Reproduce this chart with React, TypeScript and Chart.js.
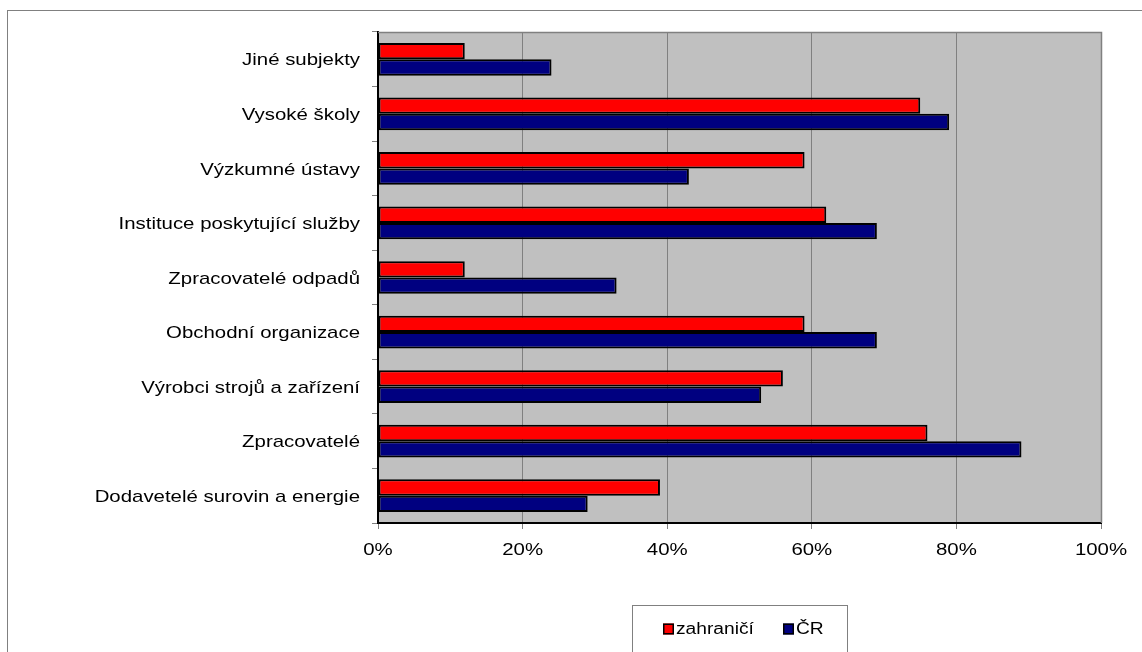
import React, { useEffect, useRef } from "react";
import { Chart, registerables } from "chart.js";

Chart.register(...registerables);

const categories = [
  "Jiné subjekty",
  "Vysoké školy",
  "Výzkumné ústavy",
  "Instituce poskytující služby",
  "Zpracovatelé odpadů",
  "Obchodní organizace",
  "Výrobci strojů a zařízení",
  "Zpracovatelé",
  "Dodavetelé surovin a energie",
];
const seriesNames = ["zahraničí", "ČR"];
const zahranici = [12, 75, 59, 62, 12, 59, 56, 76, 39];
const cr = [24, 79, 43, 69, 33, 69, 53, 89, 29];
const xTicks = [0, 20, 40, 60, 80, 100];

const FONT = "'Liberation Sans', Arial, sans-serif";
const RED = "#FF0000";
const NAVY = "#000080";
const STRETCH = 1.2;

function stretchedText(ctx: any, text: string, x: number, y: number, align: "left" | "right" | "center") {
  ctx.save();
  ctx.translate(x, y);
  ctx.scale(STRETCH, 1);
  ctx.textAlign = align;
  ctx.textBaseline = "middle";
  ctx.fillText(text, 0, 0);
  ctx.restore();
}

const framePlugin = {
  id: "framePlugin",
  beforeDraw(chart: any) {
    const { ctx, chartArea } = chart;
    ctx.save();
    ctx.fillStyle = "#FFFFFF";
    ctx.fillRect(0, 0, chart.width, chart.height);
    ctx.strokeStyle = "#808080";
    ctx.lineWidth = 1;
    ctx.strokeRect(7.5, 10.5, 3000, 3000);
    ctx.fillStyle = "#C0C0C0";
    ctx.fillRect(chartArea.left, chartArea.top, chartArea.right - chartArea.left, chartArea.bottom - chartArea.top);
    ctx.restore();
  },
  afterDraw(chart: any) {
    const { ctx, chartArea } = chart;
    ctx.save();
    // plot area top & right border
    ctx.strokeStyle = "#808080";
    ctx.lineWidth = 1.5;
    ctx.beginPath();
    ctx.moveTo(chartArea.left, chartArea.top + 0.5);
    ctx.lineTo(chartArea.right + 0.5, chartArea.top + 0.5);
    ctx.lineTo(chartArea.right + 0.5, chartArea.bottom);
    ctx.stroke();

    // axis labels (stretched like the original rendering)
    ctx.fillStyle = "#000000";
    ctx.font = `17px ${FONT}`;
    const ys = chart.scales.y;
    (chart.data.labels as string[]).forEach((lab: string, i: number) => {
      stretchedText(ctx, lab, 360, ys.getPixelForTick(i) + 1.5, "right");
    });
    const xs = chart.scales.x;
    xTicks.forEach((v) => {
      stretchedText(ctx, `${v}%`, xs.getPixelForValue(v), 550, "center");
    });

    // legend box
    const bx = 632.5, by = 605.5, bw = 215;
    ctx.fillStyle = "#FFFFFF";
    ctx.fillRect(bx, by, bw, 100);
    ctx.strokeStyle = "#808080";
    ctx.lineWidth = 1;
    ctx.strokeRect(bx, by, bw, 100);
    ctx.font = `16px ${FONT}`;
    const items = chart.data.datasets.map((d: any) => ({ label: d.label, color: d.backgroundColor }));
    const lx = [663, 783];
    const cy = 629;
    items.forEach((it: any, i: number) => {
      const x = lx[i];
      ctx.fillStyle = it.color;
      ctx.fillRect(x, cy - 5.5, 11, 11);
      ctx.strokeStyle = "#000000";
      ctx.lineWidth = 1.5;
      ctx.strokeRect(x + 0.75, cy - 4.75, 9.5, 9.5);
      ctx.fillStyle = "#000000";
      stretchedText(ctx, it.label, x + 13, cy + 1, "left");
    });
    ctx.restore();
  },
};

export default function App() {
  const ref = useRef<HTMLCanvasElement | null>(null);
  useEffect(() => {
    document.body.style.margin = "0";
    if (!ref.current) return;
    const chart = new Chart(ref.current, {
      type: "bar",
      data: {
        labels: categories,
        datasets: [
          {
            label: seriesNames[0],
            data: zahranici,
            backgroundColor: RED,
            borderColor: "#000000",
            borderWidth: 2,
            borderSkipped: false,
            categoryPercentage: 0.6,
            barPercentage: 1,
          },
          {
            label: seriesNames[1],
            data: cr,
            backgroundColor: NAVY,
            borderColor: "#000000",
            borderWidth: 2,
            borderSkipped: false,
            categoryPercentage: 0.6,
            barPercentage: 1,
          },
        ],
      },
      options: {
        indexAxis: "y",
        responsive: false,
        animation: false,
        devicePixelRatio: 1,
        layout: { padding: { left: 0, top: 32, right: 41, bottom: 0 } },
        plugins: {
          legend: { display: false },
          tooltip: { enabled: false },
        },
        scales: {
          x: {
            min: 0,
            max: 100,
            afterFit: (s: any) => {
              s.height = 129;
            },
            afterBuildTicks: (s: any) => {
              s.ticks = xTicks.map((v) => ({ value: v }));
            },
            ticks: {
              display: false,
              stepSize: 20,
            },
            grid: {
              color: "#808080",
              lineWidth: 1,
              drawTicks: true,
              tickLength: 6,
              tickColor: "#808080",
            },
            border: { display: true, color: "#000000", width: 2 },
          },
          y: {
            afterFit: (s: any) => {
              s.width = 378;
            },
            ticks: {
              display: false,
              autoSkip: false,
            },
            grid: {
              drawOnChartArea: false,
              drawTicks: true,
              tickLength: 6,
              color: "#808080",
              offset: true,
            },
            border: { display: true, color: "#000000", width: 2 },
          },
        },
      },
      plugins: [framePlugin],
    });
    return () => chart.destroy();
  }, []);
  return <canvas ref={ref} width={1142} height={652} style={{ display: "block" }} />;
}
